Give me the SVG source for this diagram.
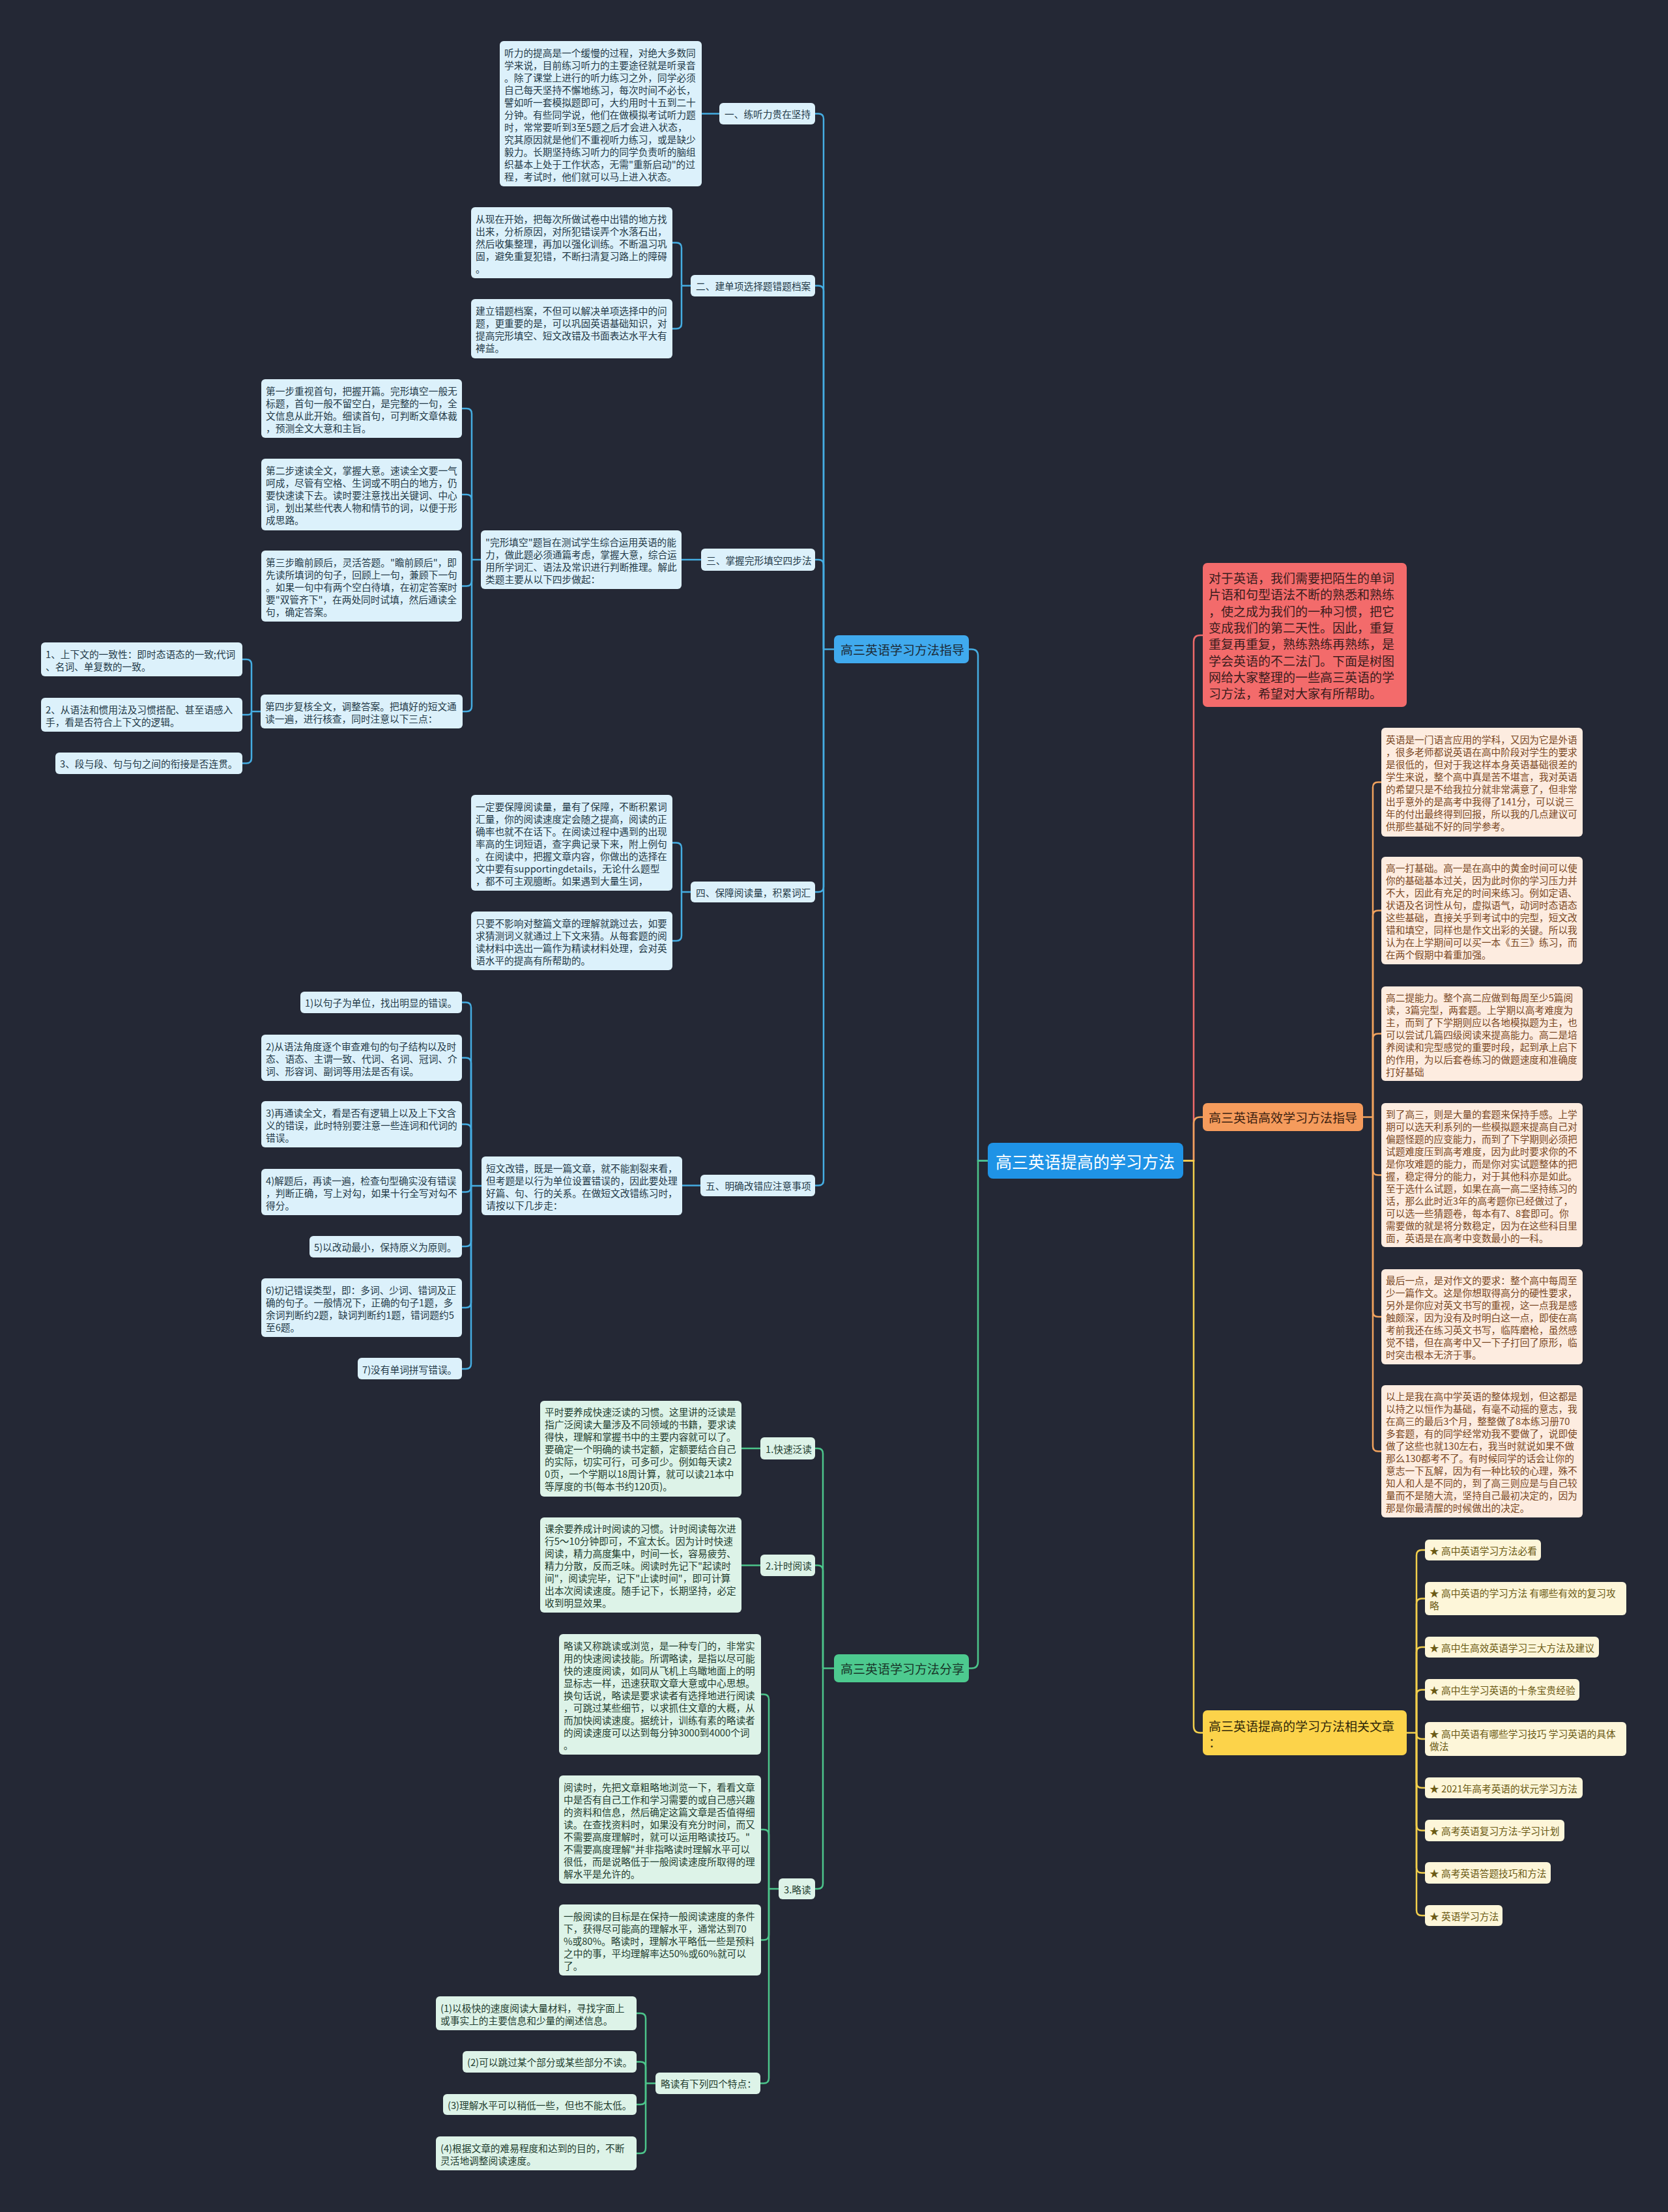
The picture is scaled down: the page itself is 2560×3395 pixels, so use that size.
<svg xmlns="http://www.w3.org/2000/svg" width="2560" height="3395" viewBox="0 0 2560 3395">
<style>
text{font-family:"Noto Sans CJK SC","Noto Sans",sans-serif;dominant-baseline:central;font-size:14.7px}
.bg{fill:#242835}
.nb{fill:#dcf1fb}.ng{fill:#ddf3e8}.no{fill:#fdece0}.ny{fill:#fdf6d9}
.tb{fill:#243a48}.tg{fill:#1f3d2f}.to{fill:#7a4824}.ty{fill:#6b5a14}
.big{font-size:19px}
.c{fill:none;stroke-width:2.5}
.cb{stroke:#45ade2}.cg{stroke:#4cc58b}.co{stroke:#f0a25e}.cy{stroke:#f2cf4c}.cr{stroke:#ee6a6a}
</style>
<rect class="bg" x="0" y="0" width="2560" height="3395"/>

<g id="connectors">
<path class="c cb" d="M1516 1781.5 H1501 V1006.5 Q1501 996.5 1491 996.5 H1487"/>
<path class="c cg" d="M1516 1781.5 H1501 V2550.5 Q1501 2560.5 1491 2560.5 H1487"/>
<path class="c cr" d="M1816 1781.5 H1832 V985 Q1832 975 1842 975 H1846"/>
<path class="c co" d="M1816 1781.5 H1832 V1724.5 Q1832 1714.5 1842 1714.5 H1846"/>
<path class="c cy" d="M1816 1781.5 H1832 V2649.5 Q1832 2659.5 1842 2659.5 H1846"/>

<path class="c cb" d="M1280 996.5 H1264"/>
<path class="c cb" d="M1264 996.5 V182.5 Q1264 174.5 1256 174.5 H1251"/>
<path class="c cb" d="M1264 996.5 V446.5 Q1264 438.5 1256 438.5 H1251"/>
<path class="c cb" d="M1264 996.5 V867 Q1264 859 1256 859 H1250"/>
<path class="c cb" d="M1264 996.5 V1361 Q1264 1369 1256 1369 H1251"/>
<path class="c cb" d="M1264 996.5 V1811.5 Q1264 1819.5 1256 1819.5 H1251"/>
<path class="c cb" d="M1104 174.5 H1077"/>
<path class="c cb" d="M1060 438.5 H1046"/>
<path class="c cb" d="M1046 438.5 V380.5 Q1046 372.5 1038 372.5 H1032"/>
<path class="c cb" d="M1046 438.5 V496.5 Q1046 504.5 1038 504.5 H1032"/>
<path class="c cb" d="M1076 859 H1046"/>
<path class="c cb" d="M738 859 H724"/>
<path class="c cb" d="M724 859 V635 Q724 627 716 627 H709"/>
<path class="c cb" d="M724 859 V767 Q724 759 716 759 H709"/>
<path class="c cb" d="M724 859 V891.5 Q724 899.5 716 899.5 H709"/>
<path class="c cb" d="M724 859 V1084 Q724 1092 716 1092 H710"/>
<path class="c cb" d="M400 1092 H386"/>
<path class="c cb" d="M386 1092 V1020 Q386 1012 378 1012 H372"/>
<path class="c cb" d="M386 1092 Q386 1097 381 1097 H372"/>
<path class="c cb" d="M386 1092 V1163.5 Q386 1171.5 378 1171.5 H372"/>
<path class="c cb" d="M1060 1369 H1046"/>
<path class="c cb" d="M1046 1369 V1301.5 Q1046 1293.5 1038 1293.5 H1032"/>
<path class="c cb" d="M1046 1369 V1436 Q1046 1444 1038 1444 H1032"/>
<path class="c cb" d="M1075 1819.5 H1047"/>
<path class="c cb" d="M739 1820 H723"/>
<path class="c cb" d="M723 1820 V1546.5 Q723 1538.5 715 1538.5 H709"/>
<path class="c cb" d="M723 1820 V1631.5 Q723 1623.5 715 1623.5 H709"/>
<path class="c cb" d="M723 1820 V1733.5 Q723 1725.5 715 1725.5 H709"/>
<path class="c cb" d="M723 1820 V1821.5 Q723 1829.5 715 1829.5 H709"/>
<path class="c cb" d="M723 1820 V1905 Q723 1913 715 1913 H709"/>
<path class="c cb" d="M723 1820 V1999 Q723 2007 715 2007 H709"/>
<path class="c cb" d="M723 1820 V2093 Q723 2101 715 2101 H709"/>

<path class="c cg" d="M1280 2560.5 H1263"/>
<path class="c cg" d="M1263 2560.5 V2231 Q1263 2223 1255 2223 H1251"/>
<path class="c cg" d="M1263 2560.5 V2410.5 Q1263 2402.5 1255 2402.5 H1251"/>
<path class="c cg" d="M1263 2560.5 V2891 Q1263 2899 1255 2899 H1251"/>
<path class="c cg" d="M1167 2223 H1138"/>
<path class="c cg" d="M1167 2402.5 H1138"/>
<path class="c cg" d="M1195 2899 H1180"/>
<path class="c cg" d="M1180 2899 V2608.5 Q1180 2600.5 1172 2600.5 H1168"/>
<path class="c cg" d="M1180 2899 V2816 Q1180 2808 1172 2808 H1168"/>
<path class="c cg" d="M1180 2899 V2969.5 Q1180 2977.5 1172 2977.5 H1168"/>
<path class="c cg" d="M1180 2899 V3189.5 Q1180 3197.5 1172 3197.5 H1167"/>
<path class="c cg" d="M1006 3197.5 H991"/>
<path class="c cg" d="M991 3197.5 V3098 Q991 3090 983 3090 H977"/>
<path class="c cg" d="M991 3197.5 V3172.5 Q991 3164.5 983 3164.5 H977"/>
<path class="c cg" d="M991 3197.5 V3222 Q991 3230 983 3230 H977"/>
<path class="c cg" d="M991 3197.5 V3297 Q991 3305 983 3305 H977"/>

<path class="c co" d="M2092 1714.5 H2107"/>
<path class="c co" d="M2107 1714.5 V1208.5 Q2107 1200.5 2115 1200.5 H2120"/>
<path class="c co" d="M2107 1714.5 V1405.5 Q2107 1397.5 2115 1397.5 H2120"/>
<path class="c co" d="M2107 1714.5 V1594.5 Q2107 1586.5 2115 1586.5 H2120"/>
<path class="c co" d="M2107 1714.5 V1795.5 Q2107 1803.5 2115 1803.5 H2120"/>
<path class="c co" d="M2107 1714.5 V2013 Q2107 2021 2115 2021 H2120"/>
<path class="c co" d="M2107 1714.5 V2219.5 Q2107 2227.5 2115 2227.5 H2120"/>

<path class="c cy" d="M2159 2659.5 H2174"/>
<path class="c cy" d="M2174 2659.5 V2387 Q2174 2379 2182 2379 H2187"/>
<path class="c cy" d="M2174 2659.5 V2461.5 Q2174 2453.5 2182 2453.5 H2187"/>
<path class="c cy" d="M2174 2659.5 V2536 Q2174 2528 2182 2528 H2187"/>
<path class="c cy" d="M2174 2659.5 V2601.5 Q2174 2593.5 2182 2593.5 H2187"/>
<path class="c cy" d="M2174 2659.5 V2661 Q2174 2669 2182 2669 H2187"/>
<path class="c cy" d="M2174 2659.5 V2736 Q2174 2744 2182 2744 H2187"/>
<path class="c cy" d="M2174 2659.5 V2801.5 Q2174 2809.5 2182 2809.5 H2187"/>
<path class="c cy" d="M2174 2659.5 V2866.5 Q2174 2874.5 2182 2874.5 H2187"/>
<path class="c cy" d="M2174 2659.5 V2932 Q2174 2940 2182 2940 H2187"/>
</g>

<g id="center"><rect x="1516" y="1754" width="300" height="55" rx="8" fill="#1f93e6"/><text x="1528" y="1781.5" style="font-size:25px" fill="#ffffff">高三英语提高的学习方法</text></g>

<g id="n-zhidao"><rect x="1280" y="975" width="207" height="43" rx="7" fill="#40aaee"/><text class="big" x="1290" y="996.5" fill="#1c2a36">高三英语学习方法指导</text></g>

<g id="n-1"><rect class="nb" x="1104" y="158" width="147" height="33" rx="6"/><text class="tb" x="1112" y="174.5">一、练听力贵在坚持</text></g>
<g id="n-1a"><rect class="nb" x="767" y="63" width="310" height="223" rx="6"/><text class="tb" x="774" y="79.5"><tspan x="774">听力的提高是一个缓慢的过程，对绝大多数同</tspan><tspan x="774" dy="19">学来说，目前练习听力的主要途径就是听录音</tspan><tspan x="774" dy="19">。除了课堂上进行的听力练习之外，同学必须</tspan><tspan x="774" dy="19">自己每天坚持不懈地练习，每次时间不必长，</tspan><tspan x="774" dy="19">譬如听一套模拟题即可，大约用时十五到二十</tspan><tspan x="774" dy="19">分钟。有些同学说，他们在做模拟考试听力题</tspan><tspan x="774" dy="19">时，常常要听到3至5题之后才会进入状态，</tspan><tspan x="774" dy="19">究其原因就是他们不重视听力练习，或是缺少</tspan><tspan x="774" dy="19">毅力。长期坚持练习听力的同学负责听的脑组</tspan><tspan x="774" dy="19">织基本上处于工作状态，无需"重新启动"的过</tspan><tspan x="774" dy="19">程，考试时，他们就可以马上进入状态。</tspan></text></g>

<g id="n-2"><rect class="nb" x="1060" y="422" width="191" height="33" rx="6"/><text class="tb" x="1068" y="438.5">二、建单项选择题错题档案</text></g>
<g id="n-2a"><rect class="nb" x="723" y="318" width="309" height="109" rx="6"/><text class="tb" x="730" y="334.5"><tspan x="730">从现在开始，把每次所做试卷中出错的地方找</tspan><tspan x="730" dy="19">出来，分析原因，对所犯错误弄个水落石出，</tspan><tspan x="730" dy="19">然后收集整理，再加以强化训练。不断温习巩</tspan><tspan x="730" dy="19">固，避免重复犯错，不断扫清复习路上的障碍</tspan><tspan x="730" dy="19">。</tspan></text></g>
<g id="n-2b"><rect class="nb" x="723" y="459" width="309" height="91" rx="6"/><text class="tb" x="730" y="476"><tspan x="730">建立错题档案，不但可以解决单项选择中的问</tspan><tspan x="730" dy="19">题，更重要的是，可以巩固英语基础知识，对</tspan><tspan x="730" dy="19">提高完形填空、短文改错及书面表达水平大有</tspan><tspan x="730" dy="19">裨益。</tspan></text></g>

<g id="n-3"><rect class="nb" x="1076" y="842" width="175" height="34" rx="6"/><text class="tb" x="1084" y="859">三、掌握完形填空四步法</text></g>
<g id="n-3a"><rect class="nb" x="738" y="814" width="308" height="90" rx="6"/><text class="tb" x="745" y="830.5"><tspan x="745">"完形填空"题旨在测试学生综合运用英语的能</tspan><tspan x="745" dy="19">力，做此题必须通篇考虑，掌握大意，综合运</tspan><tspan x="745" dy="19">用所学词汇、语法及常识进行判断推理。解此</tspan><tspan x="745" dy="19">类题主要从以下四步做起：</tspan></text></g>
<g id="n-3s1"><rect class="nb" x="401" y="582" width="308" height="90" rx="6"/><text class="tb" x="408" y="598.5"><tspan x="408">第一步重视首句，把握开篇。完形填空一般无</tspan><tspan x="408" dy="19">标题，首句一般不留空白，是完整的一句，全</tspan><tspan x="408" dy="19">文信息从此开始。细读首句，可判断文章体裁</tspan><tspan x="408" dy="19">，预测全文大意和主旨。</tspan></text></g>
<g id="n-3s2"><rect class="nb" x="401" y="704" width="308" height="110" rx="6"/><text class="tb" x="408" y="721"><tspan x="408">第二步速读全文，掌握大意。速读全文要一气</tspan><tspan x="408" dy="19">呵成，尽管有空格、生词或不明白的地方，仍</tspan><tspan x="408" dy="19">要快速读下去。读时要注意找出关键词、中心</tspan><tspan x="408" dy="19">词，划出某些代表人物和情节的词，以便于形</tspan><tspan x="408" dy="19">成思路。</tspan></text></g>
<g id="n-3s3"><rect class="nb" x="401" y="845" width="308" height="109" rx="6"/><text class="tb" x="408" y="861.5"><tspan x="408">第三步瞻前顾后，灵活答题。"瞻前顾后"，即</tspan><tspan x="408" dy="19">先读所填词的句子，回顾上一句，兼顾下一句</tspan><tspan x="408" dy="19">。如果一句中有两个空白待填，在初定答案时</tspan><tspan x="408" dy="19">要"双管齐下"，在两处同时试填，然后通读全</tspan><tspan x="408" dy="19">句，确定答案。</tspan></text></g>
<g id="n-3s4"><rect class="nb" x="400" y="1066" width="310" height="52" rx="6"/><text class="tb" x="407" y="1082.5"><tspan x="407">第四步复核全文，调整答案。把填好的短文通</tspan><tspan x="407" dy="19">读一遍，进行核查，同时注意以下三点：</tspan></text></g>
<g id="n-3p1"><rect class="nb" x="63" y="986" width="309" height="52" rx="6"/><text class="tb" x="70" y="1002.5"><tspan x="70">1、上下文的一致性：即时态语态的一致;代词</tspan><tspan x="70" dy="19">、名词、单复数的一致。</tspan></text></g>
<g id="n-3p2"><rect class="nb" x="63" y="1071" width="309" height="52" rx="6"/><text class="tb" x="70" y="1087.5"><tspan x="70">2、从语法和惯用法及习惯搭配、甚至语感入</tspan><tspan x="70" dy="19">手，看是否符合上下文的逻辑。</tspan></text></g>
<g id="n-3p3"><rect class="nb" x="85" y="1155" width="287" height="33" rx="6"/><text class="tb" x="92" y="1171.5">3、段与段、句与句之间的衔接是否连贯。</text></g>

<g id="n-4"><rect class="nb" x="1060" y="1353" width="191" height="32" rx="6"/><text class="tb" x="1068" y="1369">四、保障阅读量，积累词汇</text></g>
<g id="n-4a"><rect class="nb" x="723" y="1220" width="309" height="147" rx="6"/><text class="tb" x="730" y="1236.5"><tspan x="730">一定要保障阅读量，量有了保障，不断积累词</tspan><tspan x="730" dy="19">汇量，你的阅读速度定会随之提高，阅读的正</tspan><tspan x="730" dy="19">确率也就不在话下。在阅读过程中遇到的出现</tspan><tspan x="730" dy="19">率高的生词短语，查字典记录下来，附上例句</tspan><tspan x="730" dy="19">。在阅读中，把握文章内容，你做出的选择在</tspan><tspan x="730" dy="19">文中要有supportingdetails，无论什么题型</tspan><tspan x="730" dy="19">，都不可主观臆断。如果遇到大量生词，</tspan></text></g>
<g id="n-4b"><rect class="nb" x="723" y="1399" width="309" height="90" rx="6"/><text class="tb" x="730" y="1415.5"><tspan x="730">只要不影响对整篇文章的理解就跳过去，如要</tspan><tspan x="730" dy="19">求猜测词义就通过上下文来猜。从每套题的阅</tspan><tspan x="730" dy="19">读材料中选出一篇作为精读材料处理，会对英</tspan><tspan x="730" dy="19">语水平的提高有所帮助的。</tspan></text></g>

<g id="n-5"><rect class="nb" x="1075" y="1803" width="176" height="33" rx="6"/><text class="tb" x="1083" y="1819.5">五、明确改错应注意事项</text></g>
<g id="n-5a"><rect class="nb" x="739" y="1775" width="308" height="90" rx="6"/><text class="tb" x="746" y="1791.5"><tspan x="746">短文改错，既是一篇文章，就不能割裂来看，</tspan><tspan x="746" dy="19">但考题是以行为单位设置错误的，因此要处理</tspan><tspan x="746" dy="19">好篇、句、行的关系。在做短文改错练习时，</tspan><tspan x="746" dy="19">请按以下几步走：</tspan></text></g>
<g id="n-5p1"><rect class="nb" x="461" y="1522" width="248" height="33" rx="6"/><text class="tb" x="468" y="1538.5">1)以句子为单位，找出明显的错误。</text></g>
<g id="n-5p2"><rect class="nb" x="401" y="1588" width="308" height="71" rx="6"/><text class="tb" x="408" y="1604.5"><tspan x="408">2)从语法角度逐个审查难句的句子结构以及时</tspan><tspan x="408" dy="19">态、语态、主谓一致、代词、名词、冠词、介</tspan><tspan x="408" dy="19">词、形容词、副词等用法是否有误。</tspan></text></g>
<g id="n-5p3"><rect class="nb" x="401" y="1690" width="308" height="71" rx="6"/><text class="tb" x="408" y="1706.5"><tspan x="408">3)再通读全文，看是否有逻辑上以及上下文含</tspan><tspan x="408" dy="19">义的错误，此时特别要注意一些连词和代词的</tspan><tspan x="408" dy="19">错误。</tspan></text></g>
<g id="n-5p4"><rect class="nb" x="401" y="1794" width="308" height="71" rx="6"/><text class="tb" x="408" y="1810.5"><tspan x="408">4)解题后，再读一遍，检查句型确实没有错误</tspan><tspan x="408" dy="19">，判断正确，写上对勾，如果十行全写对勾不</tspan><tspan x="408" dy="19">得分。</tspan></text></g>
<g id="n-5p5"><rect class="nb" x="475" y="1897" width="234" height="33" rx="6"/><text class="tb" x="482" y="1913">5)以改动最小，保持原义为原则。</text></g>
<g id="n-5p6"><rect class="nb" x="401" y="1962" width="308" height="90" rx="6"/><text class="tb" x="408" y="1978.5"><tspan x="408">6)切记错误类型，即：多词、少词、错词及正</tspan><tspan x="408" dy="19">确的句子。一般情况下，正确的句子1题，多</tspan><tspan x="408" dy="19">余词判断约2题，缺词判断约1题，错词题约5</tspan><tspan x="408" dy="19">至6题。</tspan></text></g>
<g id="n-5p7"><rect class="nb" x="549" y="2084" width="160" height="33" rx="6"/><text class="tb" x="556" y="2101">7)没有单词拼写错误。</text></g>

<g id="n-share"><rect x="1280" y="2539" width="207" height="43" rx="7" fill="#4dca8f"/><text class="big" x="1290" y="2560.5" fill="#183528">高三英语学习方法分享</text></g>
<g id="n-s1"><rect class="ng" x="1167" y="2206" width="84" height="34" rx="6"/><text class="tg" x="1175" y="2223">1.快速泛读</text></g>
<g id="n-s1a"><rect class="ng" x="829" y="2150" width="309" height="147" rx="6"/><text class="tg" x="836" y="2166"><tspan x="836">平时要养成快速泛读的习惯。这里讲的泛读是</tspan><tspan x="836" dy="19">指广泛阅读大量涉及不同领域的书籍，要求读</tspan><tspan x="836" dy="19">得快，理解和掌握书中的主要内容就可以了。</tspan><tspan x="836" dy="19">要确定一个明确的读书定额，定额要结合自己</tspan><tspan x="836" dy="19">的实际，切实可行，可多可少。例如每天读2</tspan><tspan x="836" dy="19">0页，一个学期以18周计算，就可以读21本中</tspan><tspan x="836" dy="19">等厚度的书(每本书约120页)。</tspan></text></g>
<g id="n-s2"><rect class="ng" x="1167" y="2386" width="84" height="33" rx="6"/><text class="tg" x="1175" y="2402.5">2.计时阅读</text></g>
<g id="n-s2a"><rect class="ng" x="829" y="2329" width="309" height="146" rx="6"/><text class="tg" x="836" y="2345"><tspan x="836">课余要养成计时阅读的习惯。计时阅读每次进</tspan><tspan x="836" dy="19">行5～10分钟即可，不宜太长。因为计时快速</tspan><tspan x="836" dy="19">阅读，精力高度集中，时间一长，容易疲劳、</tspan><tspan x="836" dy="19">精力分散，反而乏味。阅读时先记下"起读时</tspan><tspan x="836" dy="19">间"，阅读完毕，记下"止读时间"，即可计算</tspan><tspan x="836" dy="19">出本次阅读速度。随手记下，长期坚持，必定</tspan><tspan x="836" dy="19">收到明显效果。</tspan></text></g>
<g id="n-s3"><rect class="ng" x="1195" y="2883" width="56" height="32" rx="6"/><text class="tg" x="1203" y="2899">3.略读</text></g>
<g id="n-s3a"><rect class="ng" x="858" y="2508" width="310" height="185" rx="6"/><text class="tg" x="865" y="2524.5"><tspan x="865">略读又称跳读或浏览，是一种专门的，非常实</tspan><tspan x="865" dy="19">用的快速阅读技能。所谓略读，是指以尽可能</tspan><tspan x="865" dy="19">快的速度阅读，如同从飞机上鸟瞰地面上的明</tspan><tspan x="865" dy="19">显标志一样，迅速获取文章大意或中心思想。</tspan><tspan x="865" dy="19">换句话说，略读是要求读者有选择地进行阅读</tspan><tspan x="865" dy="19">，可跳过某些细节，以求抓住文章的大概，从</tspan><tspan x="865" dy="19">而加快阅读速度。据统计，训练有素的略读者</tspan><tspan x="865" dy="19">的阅读速度可以达到每分钟3000到4000个词</tspan><tspan x="865" dy="19">。</tspan></text></g>
<g id="n-s3b"><rect class="ng" x="858" y="2725" width="310" height="166" rx="6"/><text class="tg" x="865" y="2741.5"><tspan x="865">阅读时，先把文章粗略地浏览一下，看看文章</tspan><tspan x="865" dy="19">中是否有自己工作和学习需要的或自己感兴趣</tspan><tspan x="865" dy="19">的资料和信息，然后确定这篇文章是否值得细</tspan><tspan x="865" dy="19">读。在查找资料时，如果没有充分时间，而又</tspan><tspan x="865" dy="19">不需要高度理解时，就可以运用略读技巧。"</tspan><tspan x="865" dy="19">不需要高度理解"并非指略读时理解水平可以</tspan><tspan x="865" dy="19">很低，而是说略低于一般阅读速度所取得的理</tspan><tspan x="865" dy="19">解水平是允许的。</tspan></text></g>
<g id="n-s3c"><rect class="ng" x="858" y="2923" width="310" height="109" rx="6"/><text class="tg" x="865" y="2939.5"><tspan x="865">一般阅读的目标是在保持一般阅读速度的条件</tspan><tspan x="865" dy="19">下，获得尽可能高的理解水平，通常达到70</tspan><tspan x="865" dy="19">%或80%。略读时，理解水平略低一些是预料</tspan><tspan x="865" dy="19">之中的事，平均理解率达50%或60%就可以</tspan><tspan x="865" dy="19">了。</tspan></text></g>
<g id="n-s3d"><rect class="ng" x="1006" y="3181" width="161" height="33" rx="6"/><text class="tg" x="1014" y="3197.5">略读有下列四个特点：</text></g>
<g id="n-f1"><rect class="ng" x="669" y="3064" width="308" height="52" rx="6"/><text class="tg" x="676" y="3080.5"><tspan x="676">(1)以极快的速度阅读大量材料，寻找字面上</tspan><tspan x="676" dy="19">或事实上的主要信息和少量的阐述信息。</tspan></text></g>
<g id="n-f2"><rect class="ng" x="710" y="3148" width="267" height="33" rx="6"/><text class="tg" x="717" y="3164.5">(2)可以跳过某个部分或某些部分不读。</text></g>
<g id="n-f3"><rect class="ng" x="680" y="3214" width="297" height="32" rx="6"/><text class="tg" x="687" y="3230">(3)理解水平可以稍低一些，但也不能太低。</text></g>
<g id="n-f4"><rect class="ng" x="669" y="3279" width="308" height="52" rx="6"/><text class="tg" x="676" y="3295.5"><tspan x="676">(4)根据文章的难易程度和达到的目的，不断</tspan><tspan x="676" dy="19">灵活地调整阅读速度。</tspan></text></g>

<g id="n-intro"><rect x="1846" y="864" width="313" height="221" rx="7" fill="#f36b6b"/><text class="big" x="1855" y="886" fill="#3a1c1c"><tspan x="1855">对于英语，我们需要把陌生的单词</tspan><tspan x="1855" dy="25.3">片语和句型语法不断的熟悉和熟练</tspan><tspan x="1855" dy="25.3">，使之成为我们的一种习惯，把它</tspan><tspan x="1855" dy="25.3">变成我们的第二天性。因此，重复</tspan><tspan x="1855" dy="25.3">重复再重复，熟练熟练再熟练，是</tspan><tspan x="1855" dy="25.3">学会英语的不二法门。下面是树图</tspan><tspan x="1855" dy="25.3">网给大家整理的一些高三英语的学</tspan><tspan x="1855" dy="25.3">习方法，希望对大家有所帮助。</tspan></text></g>

<g id="n-eff"><rect x="1846" y="1693" width="246" height="43" rx="7" fill="#f59b5c"/><text class="big" x="1855" y="1714.5" fill="#3a2010">高三英语高效学习方法指导</text></g>
<g id="n-e1"><rect class="no" x="2120" y="1117" width="309" height="167" rx="6"/><text class="to" x="2127" y="1134"><tspan x="2127">英语是一门语言应用的学科，又因为它是外语</tspan><tspan x="2127" dy="19">，很多老师都说英语在高中阶段对学生的要求</tspan><tspan x="2127" dy="19">是很低的，但对于我这样本身英语基础很差的</tspan><tspan x="2127" dy="19">学生来说，整个高中真是苦不堪言，我对英语</tspan><tspan x="2127" dy="19">的希望只是不给我拉分就非常满意了，但非常</tspan><tspan x="2127" dy="19">出乎意外的是高考中我得了141分，可以说三</tspan><tspan x="2127" dy="19">年的付出最终得到回报，所以我的几点建议可</tspan><tspan x="2127" dy="19">供那些基础不好的同学参考。</tspan></text></g>
<g id="n-e2"><rect class="no" x="2120" y="1315" width="309" height="165" rx="6"/><text class="to" x="2127" y="1331"><tspan x="2127">高一打基础。高一是在高中的黄金时间可以使</tspan><tspan x="2127" dy="19">你的基础基本过关，因为此时你的学习压力并</tspan><tspan x="2127" dy="19">不大，因此有充足的时间来练习。例如定语、</tspan><tspan x="2127" dy="19">状语及名词性从句，虚拟语气，动词时态语态</tspan><tspan x="2127" dy="19">这些基础，直接关乎到考试中的完型，短文改</tspan><tspan x="2127" dy="19">错和填空，同样也是作文出彩的关键。所以我</tspan><tspan x="2127" dy="19">认为在上学期间可以买一本《五三》练习，而</tspan><tspan x="2127" dy="19">在两个假期中着重加强。</tspan></text></g>
<g id="n-e3"><rect class="no" x="2120" y="1514" width="309" height="145" rx="6"/><text class="to" x="2127" y="1529.5"><tspan x="2127">高二提能力。整个高二应做到每周至少5篇阅</tspan><tspan x="2127" dy="19">读，3篇完型，两套题。上学期以高考难度为</tspan><tspan x="2127" dy="19">主，而到了下学期则应以各地模拟题为主，也</tspan><tspan x="2127" dy="19">可以尝试几篇四级阅读来提高能力。高二是培</tspan><tspan x="2127" dy="19">养阅读和完型感觉的重要时段，起到承上启下</tspan><tspan x="2127" dy="19">的作用，为以后套卷练习的做题速度和准确度</tspan><tspan x="2127" dy="19">打好基础</tspan></text></g>
<g id="n-e4"><rect class="no" x="2120" y="1693" width="309" height="221" rx="6"/><text class="to" x="2127" y="1708.5"><tspan x="2127">到了高三，则是大量的套题来保持手感。上学</tspan><tspan x="2127" dy="19">期可以选天利系列的一些模拟题来提高自己对</tspan><tspan x="2127" dy="19">偏题怪题的应变能力，而到了下学期则必须把</tspan><tspan x="2127" dy="19">试题难度压到高考难度，因为此时要求你的不</tspan><tspan x="2127" dy="19">是你攻难题的能力，而是你对实试题整体的把</tspan><tspan x="2127" dy="19">握，稳定得分的能力，对于其他科亦是如此。</tspan><tspan x="2127" dy="19">至于选什么试题，如果在高一高二坚持练习的</tspan><tspan x="2127" dy="19">话，那么此时近3年的高考题你已经做过了，</tspan><tspan x="2127" dy="19">可以选一些猜题卷，每本有7、8套即可。你</tspan><tspan x="2127" dy="19">需要做的就是将分数稳定，因为在这些科目里</tspan><tspan x="2127" dy="19">面，英语是在高考中变数最小的一科。</tspan></text></g>
<g id="n-e5"><rect class="no" x="2120" y="1948" width="309" height="146" rx="6"/><text class="to" x="2127" y="1964"><tspan x="2127">最后一点，是对作文的要求：整个高中每周至</tspan><tspan x="2127" dy="19">少一篇作文。这是你想取得高分的硬性要求，</tspan><tspan x="2127" dy="19">另外是你应对英文书写的重视，这一点我是感</tspan><tspan x="2127" dy="19">触颇深，因为没有及时明白这一点，即使在高</tspan><tspan x="2127" dy="19">考前我还在练习英文书写，临阵磨枪，虽然感</tspan><tspan x="2127" dy="19">觉不错，但在高考中又一下子打回了原形，临</tspan><tspan x="2127" dy="19">时突击根本无济于事。</tspan></text></g>
<g id="n-e6"><rect class="no" x="2120" y="2126" width="309" height="203" rx="6"/><text class="to" x="2127" y="2142"><tspan x="2127">以上是我在高中学英语的整体规划，但这都是</tspan><tspan x="2127" dy="19">以持之以恒作为基础，有毫不动摇的意志，我</tspan><tspan x="2127" dy="19">在高三的最后3个月，整整做了8本练习册70</tspan><tspan x="2127" dy="19">多套题，有的同学经常劝我不要做了，说即使</tspan><tspan x="2127" dy="19">做了这些也就130左右，我当时就说如果不做</tspan><tspan x="2127" dy="19">那么130都考不了。有时候同学的话会让你的</tspan><tspan x="2127" dy="19">意志一下瓦解，因为有一种比较的心理，殊不</tspan><tspan x="2127" dy="19">知人和人是不同的，到了高三则应是与自己较</tspan><tspan x="2127" dy="19">量而不是随大流，坚持自己最初决定的，因为</tspan><tspan x="2127" dy="19">那是你最清醒的时候做出的决定。</tspan></text></g>

<g id="n-rel"><rect x="1846" y="2625" width="313" height="69" rx="7" fill="#fcd34a"/><text class="big" x="1855" y="2648" fill="#2e2608"><tspan x="1855">高三英语提高的学习方法相关文章</tspan><tspan x="1855" dy="25">：</tspan></text></g>
<g id="n-r1"><rect class="ny" x="2187" y="2363" width="178" height="32" rx="6"/><text class="ty" x="2194" y="2379">★ 高中英语学习方法必看</text></g>
<g id="n-r2"><rect class="ny" x="2187" y="2428" width="309" height="51" rx="6"/><text class="ty" x="2194" y="2444"><tspan x="2194">★ 高中英语的学习方法 有哪些有效的复习攻</tspan><tspan x="2194" dy="19">略</tspan></text></g>
<g id="n-r3"><rect class="ny" x="2187" y="2512" width="267" height="32" rx="6"/><text class="ty" x="2194" y="2528">★ 高中生高效英语学习三大方法及建议</text></g>
<g id="n-r4"><rect class="ny" x="2187" y="2577" width="237" height="33" rx="6"/><text class="ty" x="2194" y="2593.5">★ 高中生学习英语的十条宝贵经验</text></g>
<g id="n-r5"><rect class="ny" x="2187" y="2643" width="309" height="52" rx="6"/><text class="ty" x="2194" y="2659.5"><tspan x="2194">★ 高中英语有哪些学习技巧 学习英语的具体</tspan><tspan x="2194" dy="19">做法</tspan></text></g>
<g id="n-r6"><rect class="ny" x="2187" y="2728" width="242" height="32" rx="6"/><text class="ty" x="2194" y="2744">★ 2021年高考英语的状元学习方法</text></g>
<g id="n-r7"><rect class="ny" x="2187" y="2793" width="214" height="33" rx="6"/><text class="ty" x="2194" y="2809.5">★ 高考英语复习方法-学习计划</text></g>
<g id="n-r8"><rect class="ny" x="2187" y="2858" width="193" height="33" rx="6"/><text class="ty" x="2194" y="2874.5">★ 高考英语答题技巧和方法</text></g>
<g id="n-r9"><rect class="ny" x="2187" y="2924" width="119" height="32" rx="6"/><text class="ty" x="2194" y="2940">★ 英语学习方法</text></g>
</svg>
